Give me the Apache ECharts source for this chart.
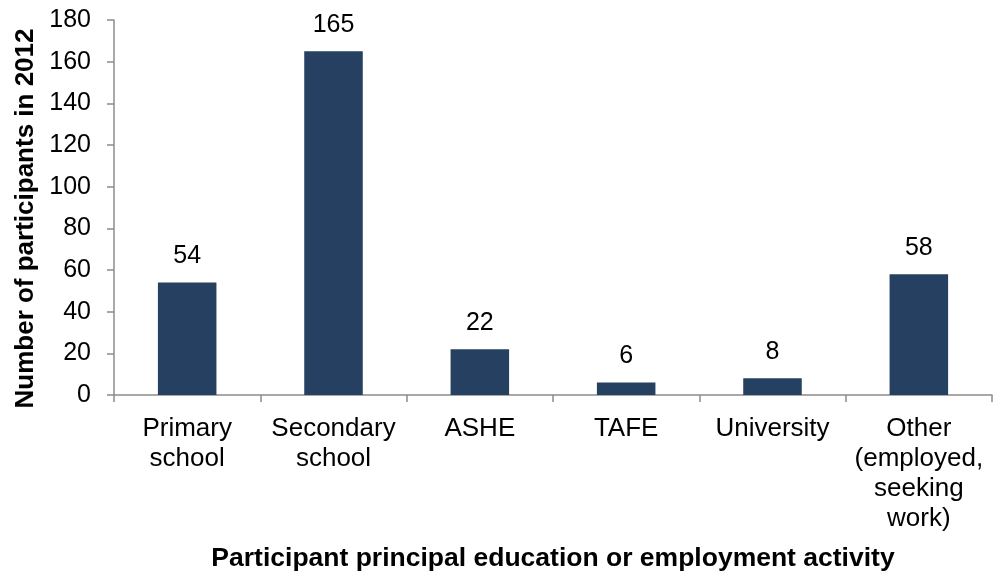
<!DOCTYPE html>
<html><head><meta charset="utf-8">
<script src="https://cdn.jsdelivr.net/npm/echarts@6/dist/echarts.min.js"></script>
<style>html,body{margin:0;padding:0;background:#fff}#c{width:993px;height:572px}</style>
</head><body><div id="c"></div>
<script>
const categories = ["Primary\nschool", "Secondary\nschool", "ASHE", "TAFE", "University", "Other\n(employed,\nseeking\nwork)"];
const values = [54, 165, 22, 6, 8, 58];
const yTicks = {min: 0, max: 180, interval: 20};
const font = "Liberation Sans, Arial, sans-serif";
const chart = echarts.init(document.getElementById('c'));
chart.setOption({
  animation: false,
  grid: {left: 114, right: 1, top: 20, bottom: 177, outerBoundsMode: 'none', containLabel: false},
  xAxis: {
    type: 'category', data: categories,
    name: 'Participant principal education or employment activity',
    nameLocation: 'middle', nameGap: 150,
    nameTextStyle: {fontFamily: font, fontSize: 26.5, fontWeight: 'bold', color: '#000'},
    axisLine: {lineStyle: {color: '#8c8c8c', width: 1.5}},
    axisTick: {show: true, length: 7, lineStyle: {color: '#8c8c8c', width: 1.5}},
    axisLabel: {fontFamily: font, fontSize: 26, color: '#000', margin: 19, lineHeight: 30, interval: 0}
  },
  yAxis: {
    type: 'value', min: yTicks.min, max: yTicks.max, interval: yTicks.interval,
    name: 'Number of participants in 2012',
    nameLocation: 'middle', nameGap: 74,
    nameTextStyle: {fontFamily: font, fontSize: 26, fontWeight: 'bold', color: '#000', padding: [0, 22, 0, 0]},
    axisLine: {show: true, lineStyle: {color: '#8c8c8c', width: 1.5}},
    axisTick: {show: true, length: 7, lineStyle: {color: '#8c8c8c', width: 1.5}},
    splitLine: {show: false},
    axisLabel: {fontFamily: font, fontSize: 25, color: '#000', margin: 23}
  },
  series: [{
    type: 'bar', data: values, barWidth: '40%',
    itemStyle: {color: '#264061'},
    label: {show: true, position: 'top', distance: 14, fontFamily: font, fontSize: 25, color: '#000'}
  }]
});
</script></body></html>
